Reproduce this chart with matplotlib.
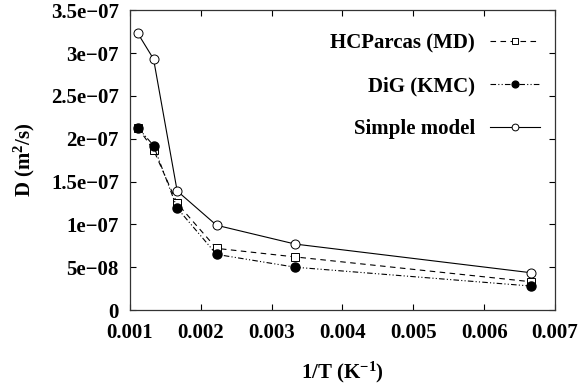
import matplotlib
matplotlib.use('Agg')
import matplotlib.pyplot as plt

plt.rcParams['font.family'] = ['Liberation Serif', 'DejaVu Serif']
plt.rcParams['font.weight'] = 'bold'
plt.rcParams['mathtext.fontset'] = 'custom'
plt.rcParams['mathtext.rm'] = 'Liberation Serif:bold'
plt.rcParams['mathtext.default'] = 'regular'

# 1/T values (T = 900, 750, 600, 450, 300, 150 K)
inv_T = [1 / 900, 1 / 750, 1 / 600, 1 / 450, 1 / 300, 1 / 150]
d_hcparcas = [2.13e-7, 1.87e-7, 1.245e-7, 7.2e-8, 6.2e-8, 3.3e-8]
d_dig = [2.13e-7, 1.92e-7, 1.19e-7, 6.5e-8, 5.0e-8, 2.8e-8]
d_simple = [3.23e-7, 2.93e-7, 1.39e-7, 9.9e-8, 7.7e-8, 4.35e-8]

xticks = [0.001, 0.002, 0.003, 0.004, 0.005, 0.006, 0.007]
xtick_labels = ['0.001', '0.002', '0.003', '0.004', '0.005', '0.006', '0.007']
yticks = [0, 5e-8, 1e-7, 1.5e-7, 2e-7, 2.5e-7, 3e-7, 3.5e-7]
ytick_labels = ['0', '5e\u221208', '1e\u221207', '1.5e\u221207', '2e\u221207',
                '2.5e\u221207', '3e\u221207', '3.5e\u221207']

fig = plt.figure(figsize=(5.8, 3.91), dpi=100)
ax = fig.add_axes([0.224, 0.207, 0.733, 0.767])

lw = 0.8
ax.plot(inv_T, d_hcparcas, linestyle=(0, (5, 4)), color='black', linewidth=lw,
        marker='s', markersize=6, markerfacecolor='white', markeredgecolor='black',
        markeredgewidth=0.7, label='HCParcas (MD)')
ax.plot(inv_T, d_dig, linestyle=(0, (5, 2, 1, 2, 1, 2)), color='black', linewidth=lw,
        marker='o', markersize=6.5, markerfacecolor='black', markeredgecolor='black',
        label='DiG (KMC)')
ax.plot(inv_T, d_simple, linestyle='-', color='black', linewidth=lw,
        marker='o', markersize=6.5, markerfacecolor='white', markeredgecolor='black',
        markeredgewidth=0.7, label='Simple model')

ax.set_xlim(0.001, 0.007)
ax.set_ylim(0, 3.5e-7)
ax.set_xticks(xticks)
ax.set_xticklabels(xtick_labels)
ax.set_yticks(yticks)
ax.set_yticklabels(ytick_labels)
ax.tick_params(direction='in', length=4.5, width=0.8, top=True, right=True,
               labelsize=15)
ax.tick_params(axis='x', pad=9.5)
ax.tick_params(axis='y', pad=8)
for s in ax.spines.values():
    s.set_linewidth(0.9)
    s.set_color('#333333')

ax.set_xlabel('1/T (K$^{-1}$)', fontsize=15, fontweight='bold', labelpad=12)
ax.set_ylabel('D (m$^{2}$/s)', fontsize=15, fontweight='bold', labelpad=10)

leg = ax.legend(loc='upper right', markerfirst=False, frameon=False, fontsize=15,
                handlelength=2.4, labelspacing=1.1, handletextpad=0.7,
                markerscale=0.75, bbox_to_anchor=(1.008, 0.985))

fig.savefig('out.png', dpi=100)
